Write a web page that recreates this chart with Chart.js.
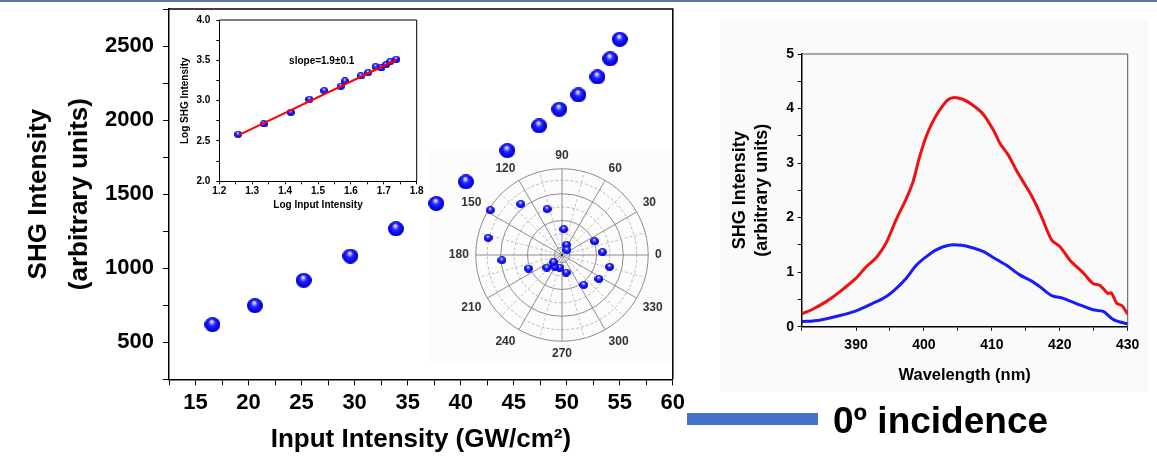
<!DOCTYPE html>
<html>
<head>
<meta charset="utf-8">
<script src="https://cdn.jsdelivr.net/npm/chart.js@4/dist/chart.umd.min.js"></script>
<style>
  body { margin: 0; background: #fff; }
  #page { position: relative; width: 1157px; height: 458px; overflow: hidden; background: #fff; }
  canvas, .abs { position: absolute; }
  #topline { left: 0; top: 0; width: 1157px; height: 2px; background: #5b79a8; }
  #polarBg { left: 430px; top: 147px; width: 242px; height: 218px; background: #fcfcfc; }
  #legBar { left: 687px; top: 413px; width: 131px; height: 12px; background: #4472c4; }
  #legText { left: 833px; top: 401px; font: bold 37px "Liberation Sans", Arial, sans-serif; line-height: 40px; color: #000; white-space: nowrap; }
</style>
</head>
<body>
<div id="page">
  <div class="abs" id="topline"></div>
  <div class="abs" id="polarBg"></div>
  <canvas id="polar" width="260" height="260" style="left:432px;top:125px;"></canvas>
  <canvas id="inset" width="250" height="205" style="left:175px;top:12px;"></canvas>
  <canvas id="main" width="690" height="458" style="left:0;top:0;"></canvas>
  <canvas id="spectrum" width="428" height="372" style="left:720px;top:20px;background:#fafafa;"></canvas>
  <div class="abs" id="legBar"></div>
  <div class="abs" id="legText">0º incidence</div>
</div>
<script>
// main plot: SHG vs input intensity
var inputIntensity = [16.6, 20.6, 25.2, 29.6, 33.9, 37.7, 40.5, 44.4, 47.4, 49.3, 51.1, 52.9, 54.1, 55.0];
var shgIntensity = [619, 747, 918, 1082, 1266, 1437, 1583, 1794, 1961, 2073, 2170, 2291, 2414, 2545];

// inset: log-log plot with linear fit
var logInput = [1.257, 1.335, 1.417, 1.474, 1.519, 1.569, 1.582, 1.630, 1.652, 1.675, 1.692, 1.707, 1.719, 1.738];
var logShg = [2.583, 2.711, 2.855, 3.017, 3.124, 3.178, 3.244, 3.306, 3.347, 3.421, 3.405, 3.446, 3.483, 3.512];
var fitX = [1.257, 1.740];
var fitY = [2.57, 3.51];
var slopeText = 'slope=1.9\u00b10.1';

// polar inset (angle in degrees, normalised radius)
var polarAngle = [148, 129, 108, 86, 167, 66, 45, 23, 4, 346, 327, 306, 283, 260, 238, 220, 220, 202, 185];
var polarRadius = [0.98, 0.76, 0.56, 0.30, 0.88, 0.13, 0.08, 0.41, 0.47, 0.57, 0.51, 0.43, 0.21, 0.15, 0.16, 0.13, 0.23, 0.42, 0.70];
var polarLabels = [0, 30, 60, 90, 120, 150, 180, 210, 240, 270, 300, 330];
var polarRings = [0.09, 0.244, 0.4, 0.556, 0.711, 0.867, 1.0];

// right plot: spectra
var redWl = [381.9, 383.6, 385.6, 387.5, 390, 391.5, 393, 394.4, 395.9, 397.4, 398.4, 399.3, 400.3, 401.3, 402.3, 403.5, 404.3, 405.7, 407.2, 408.7, 410.2, 411.2, 412.4, 413.6, 414.6, 415.8, 417.1, 418.8, 420, 421.5, 423.5, 424.9, 425.9, 427.1, 427.6, 428.4, 429.2, 430];
var redShg = [0.23, 0.32, 0.46, 0.63, 0.89, 1.10, 1.27, 1.53, 1.96, 2.35, 2.66, 3.09, 3.48, 3.76, 3.97, 4.16, 4.20, 4.17, 4.06, 3.90, 3.61, 3.36, 3.15, 2.87, 2.66, 2.41, 2.08, 1.59, 1.47, 1.22, 0.98, 0.79, 0.76, 0.61, 0.62, 0.43, 0.38, 0.23];
var blueWl = [381.9, 384.6, 387.5, 390, 392.5, 394.4, 395.9, 397.4, 398.9, 400.3, 401.8, 403.5, 404.8, 406.2, 408.7, 410.2, 412.1, 414.1, 415.8, 417.1, 418.8, 420.5, 422.5, 424.9, 426.4, 427.9, 430];
var blueShg = [0.09, 0.12, 0.20, 0.29, 0.43, 0.55, 0.70, 0.89, 1.13, 1.28, 1.41, 1.49, 1.50, 1.48, 1.38, 1.27, 1.13, 0.95, 0.84, 0.73, 0.57, 0.52, 0.42, 0.31, 0.28, 0.13, 0.05];

var FONT = '"Liberation Sans", Arial, sans-serif';
Chart.defaults.font.family = FONT;
Chart.defaults.color = '#000';

function sphere(w, h) {
    var c = document.createElement('canvas');
    c.width = w; c.height = h;
    var g = c.getContext('2d');
    var grd = g.createRadialGradient(w * 0.45, h * 0.28, 0, w * 0.5, h * 0.5, Math.max(w, h) * 0.55);
    grd.addColorStop(0, '#ffffff');
    grd.addColorStop(0.15, '#b4b4ff');
    grd.addColorStop(0.38, '#2626ff');
    grd.addColorStop(0.78, '#0000e0');
    grd.addColorStop(1, '#00009c');
    g.fillStyle = grd;
    g.beginPath();
    g.ellipse(w / 2, h / 2, w / 2, h / 2, 0, 0, Math.PI * 2);
    g.fill();
    return c;
}

function xy(xs, ys) {
    return xs.map((x, i) => ({x: x, y: ys[i]}));
}

// top and right edges of the plot box
var frame = {
    id: 'frame',
    beforeDatasetsDraw(chart, args, opts) {
        var a = chart.chartArea, ctx = chart.ctx;
        ctx.save();
        ctx.strokeStyle = opts.color || '#000';
        ctx.lineWidth = opts.width || 1;
        ctx.beginPath();
        ctx.moveTo(a.left, a.top);
        ctx.lineTo(a.right, a.top);
        ctx.lineTo(a.right, a.bottom);
        ctx.stroke();
        ctx.restore();
    }
};

function fixSize(w, h) {
    return function(s) {
        if (w !== null) s.width = w;
        if (h !== null) s.height = h;
        s.paddingTop = 0; s.paddingBottom = 0;
        s.paddingLeft = 0; s.paddingRight = 0;
    };
}

function axis(opts) {
    return {
        type: 'linear',
        min: opts.min, max: opts.max,
        afterFit: opts.fit,
        ticks: {
            stepSize: opts.step, autoSkip: false, maxRotation: 0, padding: opts.pad,
            color: '#000', font: {size: opts.size, weight: 'bold'},
            callback: opts.label
        },
        grid: {display: true, drawOnChartArea: false, drawTicks: true, tickLength: opts.tl, tickColor: '#000', tickWidth: 1},
        border: {display: true, color: '#000', width: opts.bw},
        title: {display: true, text: opts.title, color: '#000', font: {size: opts.tsize, weight: 'bold', lineHeight: opts.lh || 1.2}, padding: opts.tpad}
    };
}

// main chart
new Chart(document.getElementById('main'), {
    type: 'scatter',
    data: {datasets: [{data: xy(inputIntensity, shgIntensity), pointStyle: sphere(16, 15), pointRadius: 8}]},
    options: {
        responsive: false, animation: false,
        layout: {padding: {left: 0, top: 8.3, right: 17.2, bottom: 0}},
        plugins: {legend: {display: false}, tooltip: {enabled: false}, frame: {color: '#000', width: 1.5}},
        scales: {
            x: axis({min: 12.5, max: 60, step: 2.5, pad: 4, size: 22, tl: 6, bw: 1.5,
                label: v => (v % 5 === 0 ? String(v) : ''),
                title: 'Input Intensity (GW/cm\u00b2)', tsize: 26, tpad: {top: 0, bottom: 2.4},
                fit: fixSize(null, 78.7)}),
            y: axis({min: 250, max: 2750, step: 250, pad: 9, size: 22, tl: 6, bw: 1.5,
                label: v => (v % 500 === 0 ? String(v) : ''),
                title: ['SHG Intensity', '(arbitrary units)'], tsize: 26, lh: 1.577, tpad: {top: 18.5, bottom: 0},
                fit: fixSize(169, null)})
        }
    },
    plugins: [frame]
});

// log-log inset
var slopeLabel = {
    id: 'slopeLabel',
    afterDraw(chart) {
        var ctx = chart.ctx;
        ctx.save();
        ctx.font = 'bold 10px ' + FONT;
        ctx.fillStyle = '#000';
        ctx.textAlign = 'center';
        ctx.textBaseline = 'middle';
        ctx.fillText(slopeText, chart.chartArea.left + 102.4, chart.chartArea.top + 41.7);
        ctx.restore();
    }
};
new Chart(document.getElementById('inset'), {
    type: 'scatter',
    data: {datasets: [
        {type: 'line', data: xy(fitX, fitY), borderColor: '#ff0000', borderWidth: 2, pointRadius: 0, fill: false},
        {data: xy(logInput, logShg), pointStyle: sphere(8, 7), pointRadius: 4}
    ]},
    options: {
        responsive: false, animation: false,
        layout: {padding: {left: 0, top: 8, right: 8.3, bottom: 0}},
        plugins: {legend: {display: false}, tooltip: {enabled: false}, frame: {color: '#000', width: 1}},
        scales: {
            x: axis({min: 1.2, max: 1.8, step: 0.05, pad: 1, size: 10, tl: 3, bw: 1,
                label: v => (Math.round(v * 100) % 10 === 0 ? v.toFixed(1) : ''),
                title: 'Log Input Intensity', tsize: 10, tpad: {top: 0, bottom: 6},
                fit: fixSize(null, 35.7)}),
            y: axis({min: 2, max: 4, step: 0.25, pad: 6, size: 10, tl: 3, bw: 1,
                label: v => (Math.round(v * 100) % 50 === 0 ? v.toFixed(1) : ''),
                title: 'Log SHG Intensity', tsize: 10, tpad: {top: 4.7, bottom: 0},
                fit: fixSize(44.3, null)})
        }
    },
    plugins: [frame, slopeLabel]
});

// polar inset drawn on a scatter chart
var polarGrid = {
    id: 'polarGrid',
    beforeDatasetsDraw(chart) {
        var ctx = chart.ctx, sx = chart.scales.x, sy = chart.scales.y;
        var cx = sx.getPixelForValue(0), cy = sy.getPixelForValue(0);
        var u = sx.getPixelForValue(1) - cx;
        ctx.save();
        polarRings.forEach((r, i) => {
            var solid = (i % 2 === 0);
            ctx.setLineDash(solid ? [] : [3, 2]);
            ctx.strokeStyle = solid ? '#8c8c8c' : '#b8b8b8';
            ctx.lineWidth = 1;
            ctx.beginPath();
            ctx.arc(cx, cy, r * u, 0, Math.PI * 2);
            ctx.stroke();
        });
        for (var a = 0; a < 360; a += 15) {
            var major = (a % 30 === 0);
            var t = a * Math.PI / 180;
            ctx.setLineDash(major ? [] : [3, 2]);
            ctx.strokeStyle = major ? '#8c8c8c' : '#c4c4c4';
            ctx.beginPath();
            ctx.moveTo(cx, cy);
            ctx.lineTo(cx + Math.cos(t) * u, cy - Math.sin(t) * u);
            ctx.stroke();
        }
        ctx.setLineDash([]);
        ctx.fillStyle = '#333';
        ctx.fillRect(cx - 1, cy - 1, 2, 2);
        ctx.font = 'bold 12px ' + FONT;
        polarLabels.forEach(a => {
            var t = a * Math.PI / 180, c = Math.cos(t), s = Math.sin(t);
            var R = 1.08 * u;
            ctx.textAlign = c > 0.1 ? 'left' : (c < -0.1 ? 'right' : 'center');
            ctx.textBaseline = s > 0.1 ? 'bottom' : (s < -0.1 ? 'top' : 'middle');
            ctx.fillText(String(a), cx + c * R, cy - s * R);
        });
        ctx.restore();
    }
};
new Chart(document.getElementById('polar'), {
    type: 'scatter',
    data: {datasets: [{
        data: polarAngle.map((a, i) => ({
            x: polarRadius[i] * Math.cos(a * Math.PI / 180),
            y: polarRadius[i] * Math.sin(a * Math.PI / 180)
        })),
        pointStyle: sphere(9, 8), pointRadius: 4.5
    }]},
    options: {
        responsive: false, animation: false,
        layout: {padding: 0},
        plugins: {legend: {display: false}, tooltip: {enabled: false}},
        scales: {
            x: {type: 'linear', display: false, min: -1.444, max: 1.444},
            y: {type: 'linear', display: false, min: -1.444, max: 1.444}
        }
    },
    plugins: [polarGrid]
});

// spectra
new Chart(document.getElementById('spectrum'), {
    type: 'scatter',
    data: {datasets: [
        {data: xy(redWl, redShg), showLine: true, borderColor: '#f01010', borderWidth: 3, pointRadius: 0, tension: 0.3},
        {data: xy(blueWl, blueShg), showLine: true, borderColor: '#1a1aff', borderWidth: 3, pointRadius: 0, tension: 0.3}
    ]},
    options: {
        responsive: false, animation: false,
        layout: {padding: {left: 0, top: 34, right: 20.3, bottom: 0}},
        plugins: {legend: {display: false}, tooltip: {enabled: false}, frame: {color: '#555', width: 1}},
        scales: {
            x: axis({min: 382, max: 430, step: 5, pad: 6, size: 14, tl: 4, bw: 1.5,
                label: v => (v % 10 === 0 ? String(v) : ''),
                title: 'Wavelength (nm)', tsize: 16.5, tpad: {top: 0, bottom: 6.4},
                fit: fixSize(null, 65.3)}),
            y: axis({min: 0, max: 5, step: 0.5, pad: 3.7, size: 14, tl: 4, bw: 1.5,
                label: v => (v % 1 === 0 ? String(v) : ''),
                title: ['SHG Intensity', '(arbitrary units)'], tsize: 18, tpad: {top: 9.2, bottom: 0},
                fit: fixSize(81.7, null)})
        }
    },
    plugins: [frame]
});
</script>
</body>
</html>
